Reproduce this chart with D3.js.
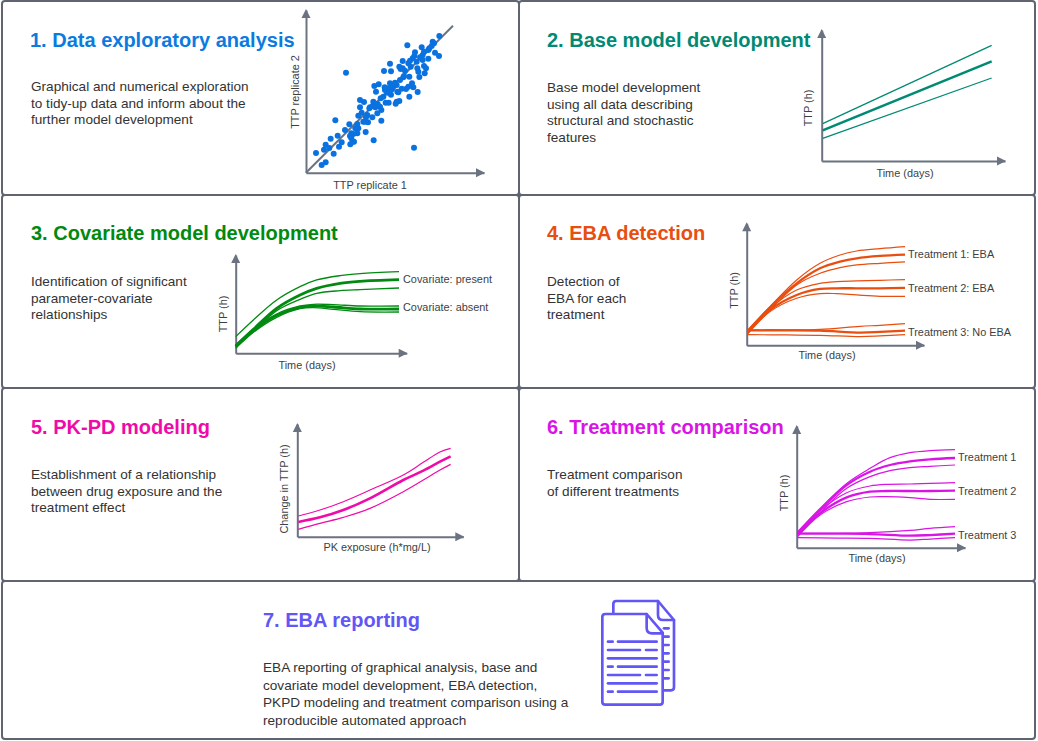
<!DOCTYPE html>
<html lang="en">
<head>
<meta charset="UTF-8" />
<title>EBA analysis workflow</title>
<script src="https://cdn.jsdelivr.net/npm/d3@7"></script>
<style>
  html, body { margin: 0; padding: 0; background: #fff; }
  svg { display: block; }
  text { font-family: "Liberation Sans", Arial, sans-serif; }
  .title { font-size: 20px; font-weight: bold; }
  .body { font-size: 13.6px; fill: #333; }
  .lab { font-size: 10.9px; fill: #3d3f44; }
</style>
</head>
<body>
<script>
// panel 1 scatter
var scatterX = [30,47,59,54,59,70,74,83,95,99,107,117,130,88,133,136,136,140,144,142,154,157,154,157,162,162,174,179,203,226,172,180,177,186,199,184,214,226,192,202,200,208,215,190,224,232,239,248,269,280,272,310,335,322,307,300,287,277,255,244,237,247,252,262,272,282,292,310,318,205,218,210,234,255,252,280,290,284,297,307,312,327,325,314,332,334,337,340,356,354,360,367,350,350,347,367,380,384,400,387,399,304,324,120,377,370,354,167,148,132,222,258,294,320,342,290,267,236,274];
var scatterY = [59,23,31,69,84,74,102,57,111,78,91,128,145,157,85,118,103,93,93,116,118,133,146,171,196,218,212,122,97,156,153,166,153,151,166,173,178,188,196,213,200,196,206,193,223,228,210,210,207,215,213,228,242,256,258,251,252,241,234,240,248,253,268,258,263,278,286,288,268,260,265,243,305,304,327,318,335,311,306,328,336,361,350,318,333,313,303,287,298,320,313,342,338,353,376,368,393,388,410,360,350,382,75,300,380,373,363,180,133,110,198,250,290,343,346,313,270,256,243];
var diagonal = [0, 441];

// panel 2 base model
var baseTime = [3, 510];
var baseUpper = [112, 347];
var baseMid = [92, 299];
var baseLower = [68, 249];

// panel 3 covariate model
var covTimeA = [0,53,123,193,243,313,373,490];
var covPresentUpper = [50,100,160,200,220,233,239,245];
var covPresentMid = [22,72,135,175,195,210,216,221];
var covPresentLower = [18,65,128,162,180,188,191,196];
var covTimeB = [0,53,123,193,233,293,373,490];
var covAbsentUpper = [25,72,118,142,147,146,142,142];
var covAbsentMid = [20,68,114,138,142,139,133,133];
var covAbsentLower = [15,63,108,134,137,132,125,124];

// panel 4 EBA detection
var ebaTime1 = [3,70,150,220,280,330,400,475];
var eba1Upper = [46,116,196,246,271,283,290,296];
var eba1Mid = [41,114,186,231,251,261,268,272];
var eba1Lower = [38,106,181,216,233,241,246,250];
var ebaTime2 = [3,70,150,220,270,330,400,475];
var eba2Upper = [41,111,166,186,191,193,195,197];
var eba2Mid = [38,106,151,169,171,171,171,172];
var eba2Lower = [34,101,141,155,155,151,147,147];
var ebaTime3 = [3,120,220,340,400,475];
var eba3Upper = [46,46,48,57,60,65];
var eba3Mid = [45,45,44,38,40,44];
var eba3Lower = [32,31,30,26,28,32];

// panel 5 PK-PD
var pkExposure = [3,68,138,218,318,378,428,460];
var pkUpper = [62,80,105,140,185,223,254,265];
var pkMid = [44,58,80,115,170,198,225,241];
var pkLower = [22,40,58,85,135,170,200,217];

// panel 6 treatment comparison
var trtTime1 = [3,70,150,220,280,340,400,475];
var trt1Upper = [48,118,193,238,270,285,291,294];
var trt1Mid = [43,113,188,228,248,259,265,269];
var trt1Lower = [38,105,178,213,231,240,244,248];
var trtTime2 = [3,70,150,220,270,340,400,475];
var trt2Upper = [43,111,165,185,190,191,193,195];
var trt2Mid = [38,103,151,168,170,170,170,171];
var trt2Lower = [33,98,138,152,153,150,145,145];
var trtTime3 = [3,120,220,340,400,475];
var trt3Upper = [43,43,45,52,58,63];
var trt3Mid = [42,42,41,36,38,42];
var trt3Lower = [30,29,28,23,26,30];

var axisGrey = "#6b7280";
var borderGrey = "#5f6470";

var svg = d3.select("body").append("svg")
  .attr("width", 1038)
  .attr("height", 741);

svg.append("rect").attr("width", 1038).attr("height", 741).attr("fill", "#fff");

// boxes
var boxes = [[2,1,517,194],[519,1,516,194],[2,195,517,193],[519,195,516,193],[2,388,517,193],[519,388,516,193],[2,581,1033,158]];
boxes.forEach(function(b) {
  svg.append("rect")
    .attr("x", b[0]).attr("y", b[1])
    .attr("width", b[2]).attr("height", b[3])
    .attr("rx", 3)
    .attr("fill", "none")
    .attr("stroke", borderGrey)
    .attr("stroke-width", 2);
});

function writeTitle(x, y, title, color) {
  svg.append("text").attr("class", "title")
    .attr("x", x).attr("y", y)
    .attr("fill", color)
    .text(title);
}

function writeBody(x, y, lines, step) {
  lines.forEach(function(l, i) {
    svg.append("text").attr("class", "body")
      .attr("x", x).attr("y", y + i * step)
      .text(l);
  });
}

// makes the scales and draws the two arrow axes, lengths are in screen pixels
function makePlot(ox, oy, w, h, xMax, yMax, xLabel, yLabel, xLabelX, xLabelY, yLabelX, yLabelY) {
  var x = d3.scaleLinear().domain([0, xMax]).range([ox, ox + w]);
  var y = d3.scaleLinear().domain([0, yMax]).range([oy, oy - h]);

  var bottom = svg.append("g")
    .attr("transform", "translate(0," + oy + ")")
    .call(d3.axisBottom(x).tickValues([]).tickSizeOuter(0));
  var left = svg.append("g")
    .attr("transform", "translate(" + ox + ",0)")
    .call(d3.axisLeft(y).tickValues([]).tickSizeOuter(0));
  bottom.select(".domain").attr("stroke", axisGrey).attr("stroke-width", 2);
  left.select(".domain").attr("stroke", axisGrey).attr("stroke-width", 2);

  svg.append("path")
    .attr("d", "M" + (ox + w + 1) + "," + oy + "l-9,-4.5v9z")
    .attr("fill", axisGrey);
  svg.append("path")
    .attr("d", "M" + ox + "," + (oy - h - 1) + "l-4.5,9h9z")
    .attr("fill", axisGrey);

  svg.append("text").attr("class", "lab")
    .attr("x", xLabelX).attr("y", xLabelY)
    .attr("text-anchor", "middle")
    .text(xLabel);
  svg.append("text").attr("class", "lab")
    .attr("transform", "translate(" + yLabelX + "," + yLabelY + ") rotate(-90)")
    .attr("text-anchor", "middle")
    .text(yLabel);

  return { x: x, y: y };
}

function addCurve(p, xs, ys, color, width, curve) {
  var line = d3.line()
    .x(function(d) { return p.x(d); })
    .y(function(d, i) { return p.y(ys[i]); })
    .curve(curve || d3.curveCatmullRom);
  svg.append("path")
    .attr("d", line(xs))
    .attr("fill", "none")
    .attr("stroke", color)
    .attr("stroke-width", width);
}

function curveLabel(x, y, s) {
  svg.append("text").attr("class", "lab")
    .attr("x", x).attr("y", y)
    .text(s);
}

// 1. data exploratory analysis
var blue = "#0a72e0";
writeTitle(30, 47, "1. Data exploratory analysis", "#0b7be0");
writeBody(31, 91, ["Graphical and numerical exploration", "to tidy-up data and inform about the", "further model development"], 16.7);
var p1 = makePlot(306, 172.7, 178, 162.7, 534, 488, "TTP replicate 1", "TTP replicate 2", 370, 189, 299, 92);
addCurve(p1, diagonal, diagonal, axisGrey, 2, d3.curveLinear);
svg.selectAll("circle.pt")
  .data(scatterX)
  .enter().append("circle")
  .attr("class", "pt")
  .attr("cx", function(d) { return p1.x(d); })
  .attr("cy", function(d, i) { return p1.y(scatterY[i]); })
  .attr("r", 3)
  .attr("fill", blue);

// 2. base model
var teal = "#008a73";
writeTitle(547, 47, "2. Base model development", teal);
writeBody(547, 92, ["Base model development", "using all data describing", "structural and stochastic", "features"], 16.7);
var p2 = makePlot(821.7, 161, 183.3, 131, 550, 393, "Time (days)", "TTP (h)", 905, 177, 812, 108);
addCurve(p2, baseTime, baseUpper, teal, 1.3);
addCurve(p2, baseTime, baseMid, teal, 2.6);
addCurve(p2, baseTime, baseLower, teal, 1.3);

// 3. covariate model
var green = "#008a10";
writeTitle(31, 240, "3. Covariate model development", green);
writeBody(31, 286, ["Identification of significant", "parameter-covariate", "relationships"], 16.7);
var p3 = makePlot(235.7, 353.3, 171, 98.3, 513, 295, "Time (days)", "TTP (h)", 307, 369, 226.5, 314);
addCurve(p3, covTimeA, covPresentUpper, green, 1.3);
addCurve(p3, covTimeA, covPresentMid, green, 2.8);
addCurve(p3, covTimeA, covPresentLower, green, 1.3);
addCurve(p3, covTimeB, covAbsentUpper, green, 1.3);
addCurve(p3, covTimeB, covAbsentMid, green, 2.8);
addCurve(p3, covTimeB, covAbsentLower, green, 1.3);
curveLabel(403, 283, "Covariate: present");
curveLabel(403, 311, "Covariate: absent");

// 4. EBA detection
var orange = "#e84e0f";
writeTitle(547, 240, "4. EBA detection", orange);
writeBody(547, 286, ["Detection of", "EBA for each", "treatment"], 16.7);
var p4 = makePlot(746.7, 345.3, 177.3, 122, 532, 366, "Time (days)", "TTP (h)", 827, 359, 738, 290.5);
[[ebaTime1, eba1Upper, 1.2], [ebaTime1, eba1Mid, 2.3], [ebaTime1, eba1Lower, 1.2],
 [ebaTime2, eba2Upper, 1.2], [ebaTime2, eba2Mid, 2.3], [ebaTime2, eba2Lower, 1.2],
 [ebaTime3, eba3Upper, 1.2], [ebaTime3, eba3Mid, 2.3], [ebaTime3, eba3Lower, 1.2]].forEach(function(c) {
  addCurve(p4, c[0], c[1], orange, c[2]);
});
curveLabel(908, 258, "Treatment 1: EBA");
curveLabel(908, 292, "Treatment 2: EBA");
curveLabel(908, 335.5, "Treatment 3: No EBA");

// 5. PK-PD
var pink = "#f00aa8";
writeTitle(31, 434, "5. PK-PD modeling", pink);
writeBody(31, 479, ["Establishment of a relationship", "between drug exposure and the", "treatment effect"], 16.7);
var p5 = makePlot(297.3, 536.7, 166, 112.7, 498, 338, "PK exposure (h*mg/L)", "Change in TTP (h)", 377, 551, 288, 489);
addCurve(p5, pkExposure, pkUpper, pink, 1.2);
addCurve(p5, pkExposure, pkMid, pink, 2.6);
addCurve(p5, pkExposure, pkLower, pink, 1.2);

// 6. treatment comparison
var magenta = "#d915e6";
writeTitle(547, 434, "6. Treatment comparison", magenta);
writeBody(547, 479, ["Treatment comparison", "of different treatments"], 16.7);
var p6 = makePlot(796.7, 547.7, 168.3, 121.7, 505, 365, "Time (days)", "TTP (h)", 877, 562, 788, 493);
[[trtTime1, trt1Upper, 1.2], [trtTime1, trt1Mid, 2.3], [trtTime1, trt1Lower, 1.2],
 [trtTime2, trt2Upper, 1.2], [trtTime2, trt2Mid, 2.3], [trtTime2, trt2Lower, 1.2],
 [trtTime3, trt3Upper, 1.2], [trtTime3, trt3Mid, 2.3], [trtTime3, trt3Lower, 1.2]].forEach(function(c) {
  addCurve(p6, c[0], c[1], magenta, c[2]);
});
curveLabel(958, 461, "Treatment 1");
curveLabel(958, 495, "Treatment 2");
curveLabel(958, 539, "Treatment 3");

// 7. reporting
var violet = "#6257f5";
writeTitle(263, 627, "7. EBA reporting", violet);
writeBody(263, 672, ["EBA reporting of graphical analysis, base and", "covariate model development, EBA detection,", "PKPD modeling and treatment comparison using a", "reproducible automated approach"], 17.7);

// document icon, two overlapping pages
var icon = svg.append("g")
  .attr("transform", "translate(590,590) scale(0.3333)")
  .attr("fill", "none")
  .attr("stroke", violet)
  .attr("stroke-width", 8)
  .attr("stroke-linecap", "round")
  .attr("stroke-linejoin", "round");
icon.append("path").attr("d", "M70,70V42Q70,33 79,33H204L252,90V292Q252,301 243,301H218");
icon.append("path").attr("d", "M204,33V75Q204,90 219,90H252");
icon.append("path").attr("d", "M46,72H170L218,128V335Q218,344 209,344H46Q37,344 37,335V81Q37,72 46,72Z").attr("fill", "#fff");
icon.append("path").attr("d", "M170,72V114Q170,130 186,130H218");
var docRows = [[54,68,84,200],[54,150,168,200],[54,200,0,0],[54,68,84,200],[54,150,168,200],[54,200,0,0],[54,68,84,200]];
docRows.forEach(function(r, i) {
  var yy = 155 + i * 25;
  icon.append("line").attr("x1", r[0]).attr("x2", r[1]).attr("y1", yy).attr("y2", yy);
  if (r[2]) icon.append("line").attr("x1", r[2]).attr("x2", r[3]).attr("y1", yy).attr("y2", yy);
});
[115,140,165,190,215,240,265].forEach(function(yy) {
  icon.append("line").attr("x1", 222).attr("x2", 236).attr("y1", yy).attr("y2", yy);
});
</script>
</body>
</html>
